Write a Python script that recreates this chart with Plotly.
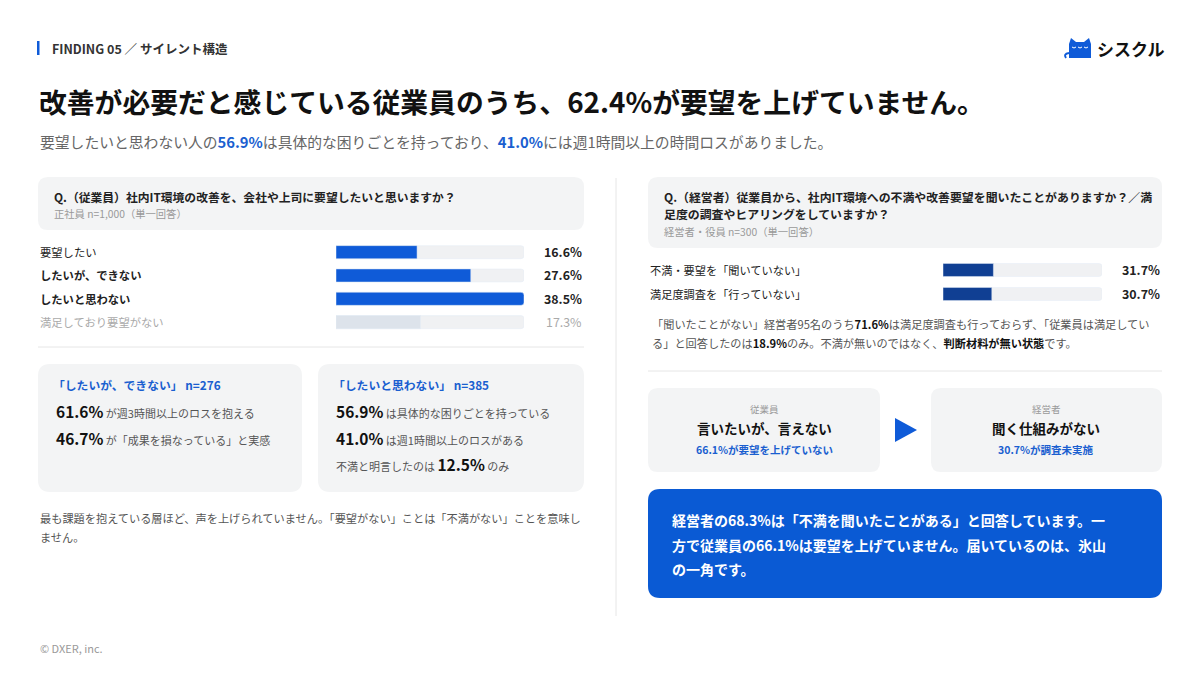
import plotly.graph_objects as go

W, H = 1200, 675
FONT = "Noto Sans CJK JP"
BLUE = "#0f5bd8"
NAVY = "#103f93"
TRACK = "#f0f1f3"
CARD = "#f3f4f5"

# ---------------- data ----------------
emp_labels = ["要望したい", "したいが、できない", "したいと思わない", "満足しており要望がない"]
emp_values = [16.6, 27.6, 38.5, 17.3]
emp_bold = [False, True, True, False]
emp_muted = [False, False, False, True]

mgr_labels = ["不満・要望を「聞いていない」", "満足度調査を「行っていない」"]
mgr_values = [31.7, 30.7]

def px(x):
    return x / W

def py(y):
    return 1 - y / H

def rrect(x0, y0, x1, y1, r, fill):
    rx, ry = r / W, r / H
    X0, X1 = px(x0), px(x1)
    Y0, Y1 = py(y0), py(y1)
    path = (f"M{X0+rx},{Y0} L{X1-rx},{Y0} Q{X1},{Y0} {X1},{Y0-ry} "
            f"L{X1},{Y1+ry} Q{X1},{Y1} {X1-rx},{Y1} L{X0+rx},{Y1} "
            f"Q{X0},{Y1} {X0},{Y1+ry} L{X0},{Y0-ry} Q{X0},{Y0} {X0+rx},{Y0} Z")
    return dict(type="path", xref="paper", yref="paper", path=path,
                fillcolor=fill, line=dict(width=0), layer="below")

shapes = []
ann = []

def text(x, y, s, size=12, color="#222", anchor="left", bold=False):
    if bold:
        s = f"<b>{s}</b>"
    ann.append(dict(x=px(x), y=py(y), xref="paper", yref="paper", text=s,
                    showarrow=False, xanchor=anchor, yanchor="middle",
                    font=dict(family=FONT, size=size, color=color)))

BIG = "<b><span style='font-size:15.5px;color:#111'>{}</span></b>"
HB = "<b><span style='color:#111'>{}</span></b>"

# ---------------- header ----------------
shapes.append(dict(type="rect", xref="paper", yref="paper", x0=px(37), x1=px(39.5),
                   y0=py(55), y1=py(41), fillcolor=BLUE, line=dict(width=0)))
text(50, 48, "FINDING 05 ／ サイレント構造", 12.5, "#333", bold=True)

# logo (cat + name)
cat = (f"M{px(1069)},{py(58)} L{px(1069)},{py(44)} L{px(1071)},{py(38)} L{px(1076)},{py(42)} "
       f"L{px(1084)},{py(42)} L{px(1089)},{py(38)} L{px(1091)},{py(44)} L{px(1091)},{py(58)} Z")
shapes.append(dict(type="path", xref="paper", yref="paper", path=cat, fillcolor=BLUE,
                   line=dict(width=0)))
shapes.append(dict(type="path", xref="paper", yref="paper",
                   path=f"M{px(1069)},{py(53)} Q{px(1063)},{py(54)} {px(1066)},{py(58)}",
                   line=dict(color=BLUE, width=2)))
for cx in (1074, 1080, 1086):
    shapes.append(dict(type="path", xref="paper", yref="paper",
                       path=f"M{px(cx-2)},{py(47)} Q{px(cx)},{py(49)} {px(cx+2)},{py(47)}",
                       line=dict(color="white", width=1)))
text(1095, 48, "シスクル", 17, "#111", bold=True)

# title & subtitle
text(37, 101, "改善が必要だと感じている従業員のうち、62.4%が要望を上げていません。", 27.8, "#111", bold=True)
text(38, 142, "要望したいと思わない人の<b><span style='color:#1a5fd0'>56.9%</span></b>は具体的な困りごとを持っており、"
              "<b><span style='color:#1a5fd0'>41.0%</span></b>には週1時間以上の時間ロスがありました。", 14.8, "#666")

# ---------------- left panel ----------------
shapes.append(rrect(38, 177, 584, 230, 10, CARD))
text(52, 196, "Q.（従業員）社内IT環境の改善を、会社や上司に要望したいと思いますか？", 11.8, "#222", bold=True)
text(52, 214, "正社員 n=1,000（単一回答）", 10.3, "#999")

for i, (lab, v) in enumerate(zip(emp_labels, emp_values)):
    col = "#aaa" if emp_muted[i] else "#222"
    ann.append(dict(x=px(38), y=lab, xref="paper", yref="y",
                    text=f"<b>{lab}</b>" if emp_bold[i] else lab, showarrow=False,
                    xanchor="left", yanchor="middle", font=dict(family=FONT, size=11.3, color=col)))
    ann.append(dict(x=px(584), y=lab, xref="paper", yref="y",
                    text=f"{v:.1f}%" if emp_muted[i] else f"<b>{v:.1f}%</b>", showarrow=False,
                    xanchor="right", yanchor="middle",
                    font=dict(family=FONT, size=12.4, color="#aaa" if emp_muted[i] else "#222")))

shapes.append(dict(type="line", xref="paper", yref="paper", x0=px(38), x1=px(584),
                   y0=py(347), y1=py(347), line=dict(color="#e6e6e6", width=1)))

# cards
shapes.append(rrect(38, 364, 302, 492, 12, CARD))
shapes.append(rrect(318, 364, 584, 492, 12, CARD))
text(51, 384, "<b>「したいが、できない」 n=276</b>", 11.8, "#1a5fd0")
text(54, 411, BIG.format("61.6%") + " が週3時間以上のロスを抱える", 11, "#555")
text(54, 438, BIG.format("46.7%") + " が「成果を損なっている」と実感", 11, "#555")
text(331, 384, "<b>「したいと思わない」 n=385</b>", 11.8, "#1a5fd0")
text(334, 411, BIG.format("56.9%") + " は具体的な困りごとを持っている", 11, "#555")
text(334, 438, BIG.format("41.0%") + " は週1時間以上のロスがある", 11, "#555")
text(334, 464, "不満と明言したのは " + BIG.format("12.5%") + " のみ", 11, "#555")

text(38, 518, "最も課題を抱えている層ほど、声を上げられていません。「要望がない」ことは「不満がない」ことを意味し", 11.2, "#555")
text(38, 537, "ません。", 11.2, "#555")

# vertical divider
shapes.append(dict(type="line", xref="paper", yref="paper", x0=px(616), x1=px(616),
                   y0=py(178), y1=py(616), line=dict(color="#e6e6e6", width=1)))

# ---------------- right panel ----------------
shapes.append(rrect(648, 177, 1162, 248, 10, CARD))
text(662, 196, "Q.（経営者）従業員から、社内IT環境への不満や改善要望を聞いたことがありますか？／満", 11.9, "#222", bold=True)
text(662, 214, "足度の調査やヒアリングをしていますか？", 11.9, "#222", bold=True)
text(662, 232, "経営者・役員 n=300（単一回答）", 10.3, "#999")

for lab, v in zip(mgr_labels, mgr_values):
    ann.append(dict(x=px(648), y=lab, xref="paper", yref="y2", text=lab, showarrow=False,
                    xanchor="left", yanchor="middle", font=dict(family=FONT, size=11.2, color="#222")))
    ann.append(dict(x=px(1162), y=lab, xref="paper", yref="y2", text=f"<b>{v:.1f}%</b>",
                    showarrow=False, xanchor="right", yanchor="middle",
                    font=dict(family=FONT, size=12.4, color="#222")))

text(650, 324, "「聞いたことがない」経営者95名のうち" + HB.format("71.6%") + "は満足度調査も行っておらず、「従業員は満足してい", 11.2, "#555")
text(650, 343, "る」と回答したのは" + HB.format("18.9%") + "のみ。不満が無いのではなく、" + HB.format("判断材料が無い状態") + "です。", 11.2, "#555")

shapes.append(dict(type="line", xref="paper", yref="paper", x0=px(648), x1=px(1162),
                   y0=py(371), y1=py(371), line=dict(color="#e6e6e6", width=1)))

shapes.append(rrect(648, 388, 880, 472, 10, CARD))
shapes.append(rrect(931, 388, 1162, 472, 10, CARD))
text(764, 409, "従業員", 9.5, "#999", anchor="center")
text(764, 428, "言いたいが、言えない", 13.5, "#111", anchor="center", bold=True)
text(764, 449, "66.1%が要望を上げていない", 10.5, "#1a5fd0", anchor="center", bold=True)
text(1046, 409, "経営者", 9.5, "#999", anchor="center")
text(1046, 428, "聞く仕組みがない", 13.5, "#111", anchor="center", bold=True)
text(1046, 449, "30.7%が調査未実施", 10.5, "#1a5fd0", anchor="center", bold=True)
shapes.append(dict(type="path", xref="paper", yref="paper",
                   path=f"M{px(895)},{py(418)} L{px(917)},{py(430)} L{px(895)},{py(442)} Z",
                   fillcolor=BLUE, line=dict(width=0)))

shapes.append(rrect(648, 489, 1162, 598, 12, "#0a5ad4"))
text(670, 520, "経営者の68.3%は「不満を聞いたことがある」と回答しています。一", 14, "white", bold=True)
text(670, 545, "方で従業員の66.1%は要望を上げていません。届いているのは、氷山", 14, "white", bold=True)
text(670, 569, "の一角です。", 14, "white", bold=True)

text(38, 648, "© DXER, inc.", 11, "#999")

# ---------------- bars ----------------
fig = go.Figure()
emp_max = max(emp_values)
fig.add_trace(go.Bar(y=emp_labels, x=[emp_max] * len(emp_labels), orientation="h",
                     marker=dict(color=TRACK, cornerradius=3), width=0.56,
                     hoverinfo="skip", xaxis="x", yaxis="y"))
fig.add_trace(go.Bar(y=emp_labels, x=emp_values, orientation="h",
                     marker=dict(color=[("#dde3eb" if m else BLUE) for m in emp_muted], cornerradius=3),
                     width=0.56, xaxis="x", yaxis="y"))
fig.add_trace(go.Bar(y=mgr_labels, x=[100] * len(mgr_labels), orientation="h",
                     marker=dict(color=TRACK, cornerradius=3), width=0.54,
                     hoverinfo="skip", xaxis="x2", yaxis="y2"))
fig.add_trace(go.Bar(y=mgr_labels, x=mgr_values, orientation="h",
                     marker=dict(color=NAVY, cornerradius=3), width=0.54,
                     xaxis="x2", yaxis="y2"))

axis_off = dict(showgrid=False, zeroline=False, showticklabels=False, showline=False, fixedrange=True)
fig.update_layout(
    width=W, height=H, margin=dict(l=0, r=0, t=0, b=0),
    paper_bgcolor="white", plot_bgcolor="rgba(0,0,0,0)",
    showlegend=False, barmode="overlay",
    font=dict(family=FONT),
    xaxis=dict(domain=[px(336), px(524)], range=[0, emp_max], anchor="y", **axis_off),
    yaxis=dict(domain=[py(333.8), py(240.5)], range=[3.5, -0.5], type="category",
               categoryarray=emp_labels, anchor="x", **axis_off),
    xaxis2=dict(domain=[px(943), px(1102)], range=[0, 100], anchor="y2", **axis_off),
    yaxis2=dict(domain=[py(306), py(258)], range=[1.5, -0.5], type="category",
                categoryarray=mgr_labels, anchor="x2", **axis_off),
    shapes=shapes, annotations=ann,
)
fig.write_html("out.html", config={"displayModeBar": False},
               post_script="document.body.style.margin='0';document.body.style.overflow='hidden';")
